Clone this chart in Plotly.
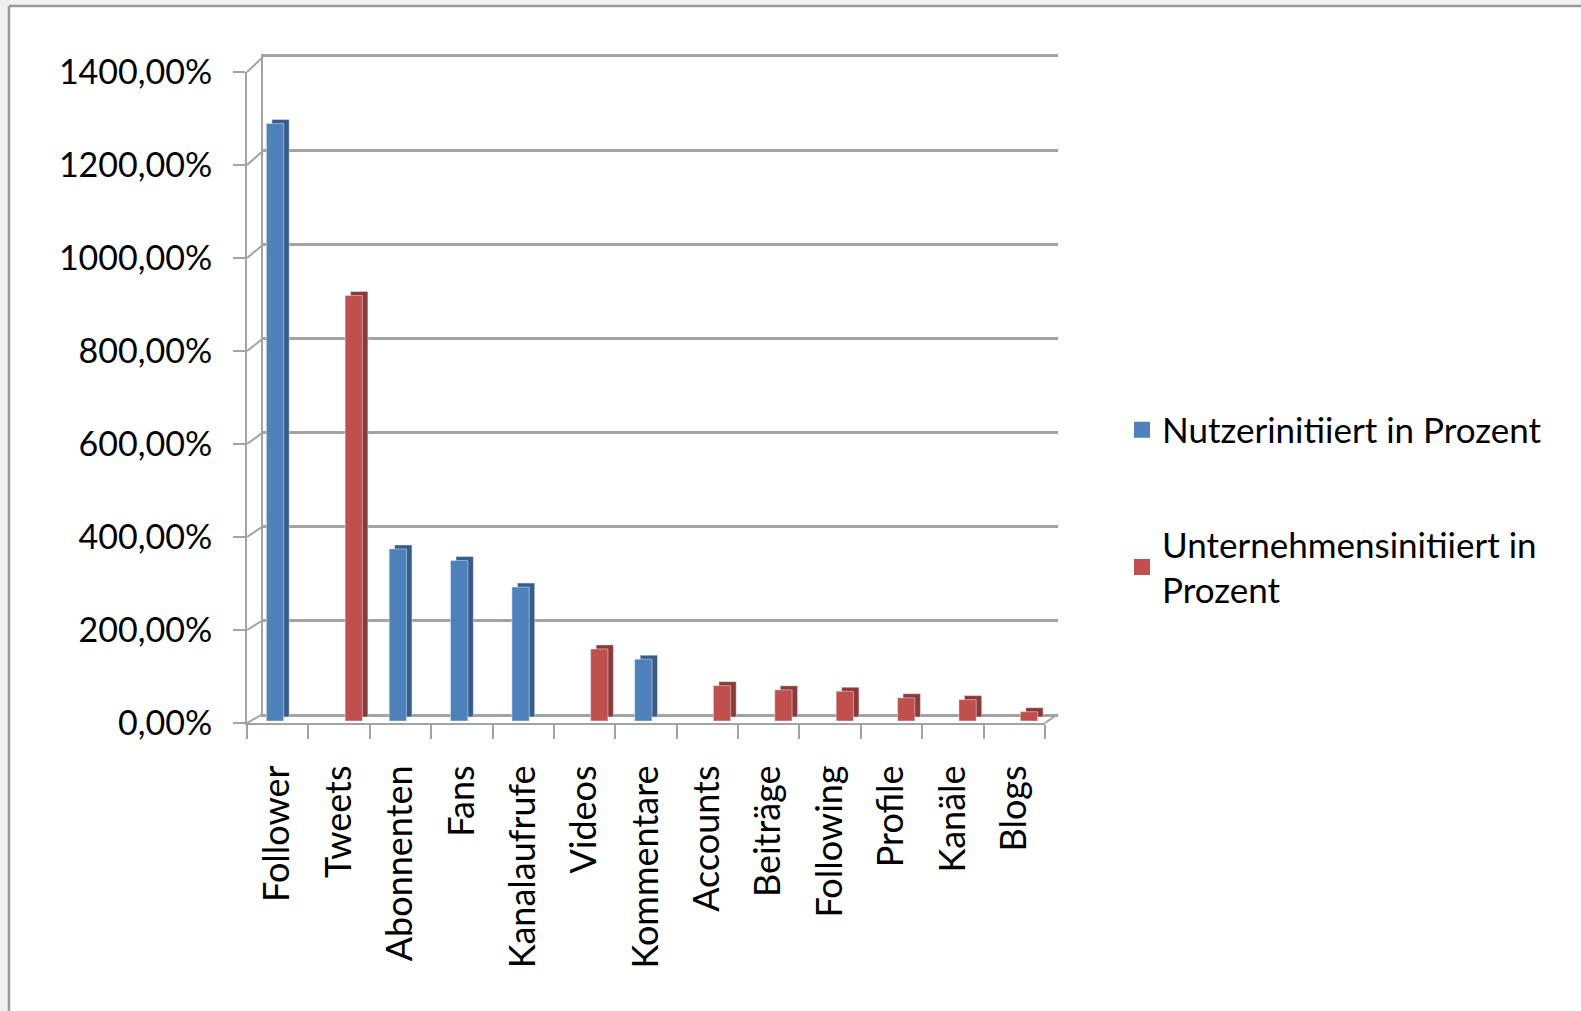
import plotly.graph_objects as go

# ---------------- data ----------------
categories = ["Follower", "Tweets", "Abonnenten", "Fans", "Kanalaufrufe", "Videos",
              "Kommentare", "Accounts", "Beiträge", "Following", "Profile", "Kanäle", "Blogs"]
nutzer_name = "Nutzerinitiiert in Prozent"
unternehmen_name = "Unternehmensinitiiert in<br>Prozent"
nutzer = [1285, None, 370, 345, 288, None, 133, None, None, None, None, None, None]
unternehmen = [None, 915, None, None, None, 155, None, 76, 67, 64, 50, 46, 20]
y_tickvals = [0, 200, 400, 600, 800, 1000, 1200, 1400]
y_ticktext = ["0,00%", "200,00%", "400,00%", "600,00%", "800,00%", "1000,00%", "1200,00%", "1400,00%"]

# ---------------- style ----------------
W, H = 1581, 1011
BLUE, BLUE_SIDE = "#4f81bd", "#385d8a"
RED, RED_SIDE = "#c0504d", "#8c3a38"
GRID = "#a3a3a3"
FONT = "Lato"
YMAX = 1400

# pixel frames of the pseudo-3D box
FRONT = dict(x0=247, x1=1045, y0=723, y1=72)    # front axes
BACK = dict(x0=263, x1=1058, y0=714, y1=57)     # back wall


def fx(px):
    return px / W


def fy(py):
    return 1 - py / H


def vpix(frame, v):
    return frame["y0"] + (frame["y1"] - frame["y0"]) * v / YMAX


fig = go.Figure()

# back wall subplot (grid only)
fig.add_trace(go.Scatter(x=[], y=[], xaxis="x", yaxis="y", showlegend=False, hoverinfo="skip"))
# front axes subplot (invisible helper for the category axis)
fig.add_trace(go.Scatter(x=categories, y=[0] * len(categories), xaxis="x2", yaxis="y2",
                         mode="markers", marker=dict(opacity=0), showlegend=False, hoverinfo="skip"))
# side faces (3D depth)
fig.add_trace(go.Bar(x=categories, y=nutzer, xaxis="x3", yaxis="y3", marker_color=BLUE_SIDE,
                     showlegend=False, hoverinfo="skip"))
fig.add_trace(go.Bar(x=categories, y=unternehmen, xaxis="x3", yaxis="y3", marker_color=RED_SIDE,
                     showlegend=False, hoverinfo="skip"))
# front faces
fig.add_trace(go.Bar(x=categories, y=nutzer, xaxis="x4", yaxis="y4", marker_color=BLUE,
                     name=nutzer_name, showlegend=False))
fig.add_trace(go.Bar(x=categories, y=unternehmen, xaxis="x4", yaxis="y4", marker_color=RED,
                     name=unternehmen_name, showlegend=False))
# legend entries (square keys)
fig.add_trace(go.Scatter(x=[None], y=[None], xaxis="x4", yaxis="y4", mode="markers",
                         marker=dict(symbol="square", size=16, color=BLUE),
                         name=nutzer_name, legend="legend", hoverinfo="skip"))
fig.add_trace(go.Scatter(x=[None], y=[None], xaxis="x4", yaxis="y4", mode="markers",
                         marker=dict(symbol="square", size=16, color=RED),
                         name=unternehmen_name, legend="legend2", hoverinfo="skip"))

hidden_cat = dict(type="category", categoryorder="array", categoryarray=categories,
                  range=[-0.5, len(categories) - 0.5], visible=False, fixedrange=True)
hidden_val = dict(range=[0, YMAX], visible=False, fixedrange=True)
legend_font = dict(family=FONT, size=35, color="#000000")

# frame decorations: side-wall connectors at each tick level, floor right edge
shapes = [
    dict(type="rect", xref="paper", yref="paper", x0=0, x1=1, y0=fy(5), y1=1,
         fillcolor="#f0f0f0", line_width=0, layer="below"),
    dict(type="rect", xref="paper", yref="paper", x0=0, x1=fx(8), y0=0, y1=1,
         fillcolor="#f0f0f0", line_width=0, layer="below"),
    dict(type="line", xref="paper", yref="paper", x0=fx(9), x1=1, y0=fy(6), y1=fy(6),
         line=dict(color="#9a9a9a", width=2.5), layer="below"),
    dict(type="line", xref="paper", yref="paper", x0=fx(9), x1=fx(9), y0=0, y1=fy(6),
         line=dict(color="#9a9a9a", width=2.5), layer="below"),
]
for v in y_tickvals:
    shapes.append(dict(type="line", xref="paper", yref="paper",
                       x0=fx(FRONT["x0"]), y0=fy(vpix(FRONT, v)),
                       x1=fx(BACK["x0"]), y1=fy(vpix(BACK, v)),
                       line=dict(color=GRID, width=2), layer="below"))
shapes.append(dict(type="line", xref="paper", yref="paper",
                   x0=fx(FRONT["x1"]), y0=fy(FRONT["y0"]), x1=fx(BACK["x1"]), y1=fy(BACK["y0"]),
                   line=dict(color=GRID, width=2), layer="below"))

fig.update_layout(
    width=W, height=H,
    margin=dict(l=0, r=0, t=0, b=0),
    paper_bgcolor="white", plot_bgcolor="rgba(0,0,0,0)",
    barmode="group", bargap=0.436, bargroupgap=0,
    font=dict(family=FONT, color="#000000"),
    # back wall
    xaxis=dict(domain=[fx(BACK["x0"]), fx(BACK["x1"])], anchor="y", range=[0, 1], showgrid=False,
               zeroline=False, showline=True, mirror=True, linecolor=GRID, linewidth=2.5,
               showticklabels=False, ticks="", fixedrange=True),
    yaxis=dict(domain=[fy(BACK["y0"]), fy(BACK["y1"])], anchor="x", range=[0, YMAX],
               tickvals=y_tickvals, showgrid=True, gridcolor=GRID, gridwidth=2.5, zeroline=False,
               showline=True, linecolor=GRID, linewidth=2, showticklabels=False,
               ticks="", fixedrange=True),
    # front axes
    xaxis2=dict(domain=[fx(FRONT["x0"]), fx(FRONT["x1"])], anchor="y2", type="category",
                categoryorder="array", categoryarray=categories,
                range=[-0.5, len(categories) - 0.5], tickson="boundaries",
                ticks="outside", ticklen=14, tickwidth=2, tickcolor=GRID,
                showline=True, linecolor=GRID, linewidth=2, showgrid=False, zeroline=False,
                tickangle=-90, tickfont=dict(family=FONT, size=36, color="#000000"),
                ticklabelstandoff=26, automargin=False, fixedrange=True),
    yaxis2=dict(domain=[fy(FRONT["y0"]), fy(FRONT["y1"])], anchor="x2", range=[0, YMAX],
                tickmode="array", tickvals=y_tickvals, ticktext=y_ticktext,
                ticks="outside", ticklen=12, tickwidth=2, tickcolor=GRID,
                showline=True, linecolor=GRID, linewidth=2, showgrid=False, zeroline=False,
                tickfont=dict(family=FONT, size=34, color="#000000"),
                ticklabelstandoff=14, automargin=False, fixedrange=True),
    xaxis3=dict(domain=[fx(258.5), fx(1056.5)], anchor="y3", **hidden_cat),
    yaxis3=dict(domain=[fy(717), fy(66)], anchor="x3", **hidden_val),
    xaxis4=dict(domain=[fx(253), fx(1051)], anchor="y4", **hidden_cat),
    yaxis4=dict(domain=[fy(721), fy(70)], anchor="x4", **hidden_val),
    legend=dict(x=fx(1122), y=fy(430), xanchor="left", yanchor="middle",
                itemsizing="trace", bgcolor="rgba(0,0,0,0)", font=legend_font),
    legend2=dict(x=fx(1122), y=fy(567), xanchor="left", yanchor="middle",
                 itemsizing="trace", bgcolor="rgba(0,0,0,0)", font=legend_font),
    shapes=shapes,
)

fig.write_html("out.html")
